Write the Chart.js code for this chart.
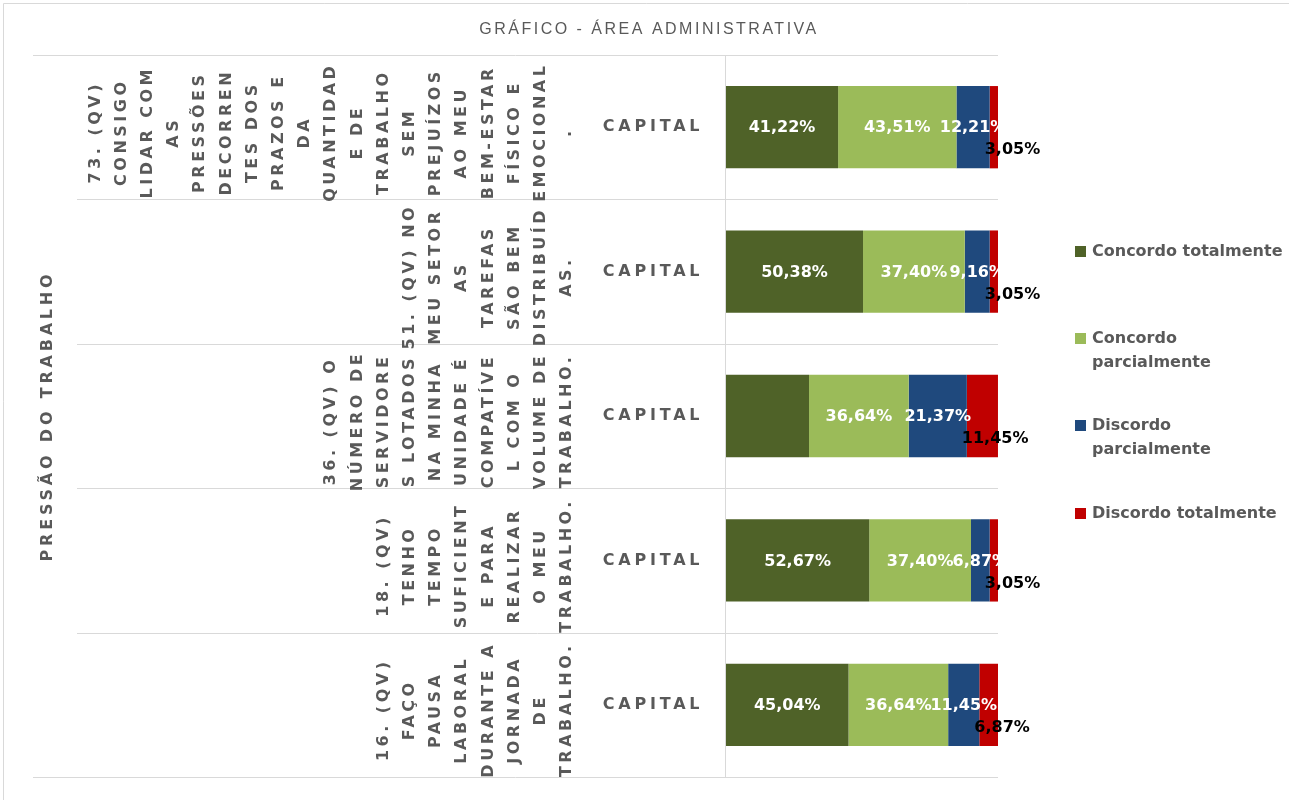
<!DOCTYPE html>
<html>
<head>
<meta charset="utf-8">
<script src="https://cdn.jsdelivr.net/npm/chart.js@4/dist/chart.umd.min.js"></script>
<style>
  html, body { margin: 0; padding: 0; background: #ffffff; }
  canvas { display: block; }
</style>
</head>
<body>
<canvas id="c" width="1289" height="800"></canvas>
<script>
// ---------- DATA ----------
const chartTitle = "GRÁFICO - ÁREA ADMINISTRATIVA";
const groupLabel = "PRESSÃO DO TRABALHO";
const questions = [
  ["73. (QV)","CONSIGO","LIDAR COM","AS","PRESSÕES","DECORREN","TES DOS","PRAZOS E","DA","QUANTIDAD","E DE","TRABALHO","SEM","PREJUÍZOS","AO MEU","BEM-ESTAR","FÍSICO E","EMOCIONAL","."],
  ["51. (QV) NO","MEU SETOR","AS","TAREFAS","SÃO BEM","DISTRIBUÍD","AS."],
  ["36. (QV) O","NÚMERO DE","SERVIDORE","S LOTADOS","NA MINHA","UNIDADE É","COMPATÍVE","L COM O","VOLUME DE","TRABALHO."],
  ["18. (QV)","TENHO","TEMPO","SUFICIENT","E PARA","REALIZAR","O MEU","TRABALHO."],
  ["16. (QV)","FAÇO","PAUSA","LABORAL","DURANTE A","JORNADA","DE","TRABALHO."]
];
const subCategories = ["CAPITAL","CAPITAL","CAPITAL","CAPITAL","CAPITAL"];

const seriesNames = ["Concordo totalmente","Concordo parcialmente","Discordo parcialmente","Discordo totalmente"];
const legendLines = [["Concordo totalmente"],["Concordo","parcialmente"],["Discordo","parcialmente"],["Discordo totalmente"]];
const concordoTotal    = [41.22, 50.38, 30.53, 52.67, 45.04];
const concordoParcial  = [43.51, 37.40, 36.64, 37.40, 36.64];
const discordoParcial  = [12.21,  9.16, 21.37,  6.87, 11.45];
const discordoTotal    = [ 3.05,  3.05, 11.45,  3.05,  6.87];
const seriesColors = ["#4F6228", "#9BBB59", "#1F497D", "#C00000"];
// labels not shown in the reference: [seriesIndex, categoryIndex]
const hiddenLabels = [[0, 2]];

// ---------- STYLE ----------
const FONT = "'DejaVu Sans', 'Liberation Sans', Arial, sans-serif";
const TFONT = "'Liberation Sans', Arial, sans-serif";
const GREY = "#595959";
const GRID = "#d9d9d9";

function fmt(v) { return v.toFixed(2).replace('.', ',') + '%'; }
function setLS(ctx, px) { if ('letterSpacing' in ctx) ctx.letterSpacing = px + 'px'; }

const decorPlugin = {
  id: 'decor',
  beforeDatasetsDraw(chart) {
    const ctx = chart.ctx;
    const ys = chart.scales.y, area = chart.chartArea;
    const n = questions.length;
    const rowH = (area.bottom - area.top) / n;
    ctx.save();
    ctx.strokeStyle = GRID; ctx.lineWidth = 1;
    ctx.beginPath();
    ctx.moveTo(3.5, 800); ctx.lineTo(3.5, 3.5); ctx.lineTo(1289, 3.5);
    ctx.stroke();
    for (let i = 0; i <= n; i++) {
      const y = Math.round(ys.getPixelForValue(i) - rowH / 2) + 0.5;
      const x0 = (i === 0 || i === n) ? 33 : 77;
      ctx.beginPath(); ctx.moveTo(x0, y); ctx.lineTo(area.right, y); ctx.stroke();
    }
    ctx.beginPath();
    ctx.moveTo(area.left - 0.5, area.top); ctx.lineTo(area.left - 0.5, area.bottom);
    ctx.stroke();
    ctx.restore();
  },
  afterDatasetsDraw(chart) {
    const ctx = chart.ctx;
    const ys = chart.scales.y, area = chart.chartArea;
    ctx.save();
    // title
    ctx.fillStyle = GREY;
    ctx.font = "16px " + TFONT;
    setLS(ctx, 2.5);
    ctx.textAlign = 'center'; ctx.textBaseline = 'middle';
    ctx.fillText(chartTitle, 649, 30);

    // group label (rotated)
    ctx.font = "bold 16px " + FONT;
    setLS(ctx, 3.8);
    ctx.save();
    ctx.translate(48, (area.top + area.bottom) / 2);
    ctx.rotate(-Math.PI / 2);
    ctx.fillText(groupLabel, 0, 0);
    ctx.restore();

    // question labels
    setLS(ctx, 3.5);
    const lineGap = 26.2, lastX = 567;
    questions.forEach((lines, i) => {
      const cy = ys.getPixelForValue(i) + 5;
      const nL = lines.length;
      lines.forEach((t, j) => {
        const x = lastX - (nL - 1 - j) * lineGap;
        ctx.save();
        ctx.translate(x, cy);
        ctx.rotate(-Math.PI / 2);
        ctx.fillText(t, 0, 0);
        ctx.restore();
      });
    });
    setLS(ctx, 3.8);
    subCategories.forEach((s, i) => ctx.fillText(s, 653, ys.getPixelForValue(i)));

    // data labels
    ctx.font = "bold 16px " + FONT;
    setLS(ctx, 0);
    chart.data.datasets.forEach((ds, si) => {
      const meta = chart.getDatasetMeta(si);
      meta.data.forEach((bar, ci) => {
        if (hiddenLabels.some(h => h[0] === si && h[1] === ci)) return;
        const txt = fmt(ds.data[ci]);
        const left = Math.min(bar.x, bar.base), right = Math.max(bar.x, bar.base);
        if (si === 3) {
          ctx.fillStyle = '#000000';
          ctx.textAlign = 'left';
          ctx.fillText(txt, left - 5, bar.y + 23);
        } else {
          ctx.save();
          if (si === 2) {
            ctx.beginPath();
            ctx.rect(0, 0, area.right + 1, 800);
            ctx.clip();
          }
          ctx.fillStyle = '#ffffff';
          ctx.textAlign = 'center';
          ctx.fillText(txt, (left + right) / 2, bar.y + 1);
          ctx.restore();
        }
      });
    });

    // legend
    ctx.font = "bold 16px " + FONT;
    setLS(ctx, 0);
    ctx.textAlign = 'left';
    const legY = [251, 338, 425, 513];
    legendLines.forEach((lines, k) => {
      ctx.fillStyle = seriesColors[k];
      ctx.fillRect(1075, legY[k] - 5, 11, 11);
      ctx.fillStyle = GREY;
      lines.forEach((t, j) => ctx.fillText(t, 1092, legY[k] + j * 24 + 1));
    });
    ctx.restore();
  }
};

const seriesData = [concordoTotal, concordoParcial, discordoParcial, discordoTotal];

new Chart(document.getElementById('c'), {
  type: 'bar',
  data: {
    labels: questions,
    datasets: seriesData.map((d, i) => ({
      label: seriesNames[i],
      data: d,
      backgroundColor: seriesColors[i],
      borderWidth: 0,
      barPercentage: 0.57,
      categoryPercentage: 1.0
    }))
  },
  options: {
    indexAxis: 'y',
    responsive: false,
    animation: false,
    devicePixelRatio: 1,
    layout: { padding: { left: 726, right: 291, top: 55, bottom: 23 } },
    scales: {
      x: { stacked: true, min: 0, max: 100, display: false },
      y: { stacked: true, display: false, offset: true }
    },
    plugins: {
      legend: { display: false },
      title: { display: false },
      tooltip: { enabled: false }
    }
  },
  plugins: [decorPlugin]
});
</script>
</body>
</html>
